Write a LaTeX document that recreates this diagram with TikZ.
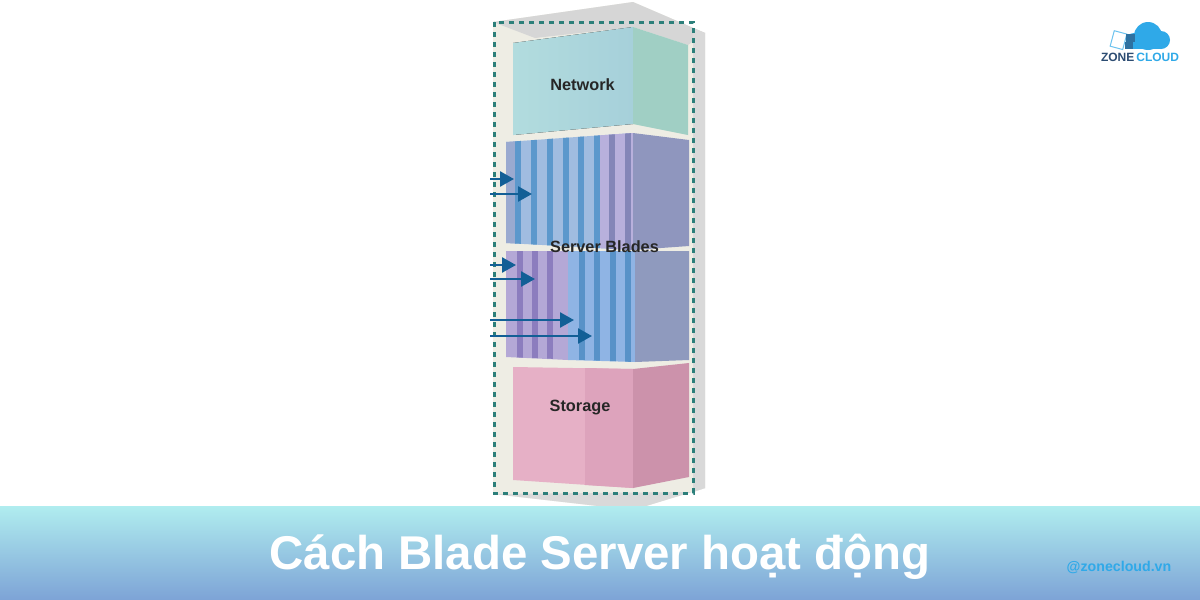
\documentclass[tikz,border=0pt]{standalone}
\usepackage{fontspec}
\setmainfont{Liberation Sans}
\usetikzlibrary{arrows.meta}
\definecolor{flowblue}{HTML}{125F96}
\definecolor{dashgreen}{HTML}{2C7F7A}
\definecolor{cloudblue}{HTML}{2FA9E8}
\definecolor{logonavy}{HTML}{2C4C72}
\begin{document}
\begin{tikzpicture}[x=1pt,y=-1pt,
      flowarrow/.style = {draw=flowblue, line width=2.5pt,
        -{Triangle[length=14pt,width=15pt]}},
      bladelabel/.style = {font=\bfseries\fontsize{16.3}{18}\selectfont, text=black!85, inner sep=0pt},
      stripe/.style = {line width=6pt}]
  \useasboundingbox (0,0) rectangle (1200,600);
  \fill[white] (0,0) rectangle (1200,600);
  % rack
  \fill[black!8!white!96!yellow] (493,22) -- (633,2) -- (705,33) -- (705,488) -- (633,510) -- (493,494) -- cycle;
  \fill[black!16] (493,22) -- (633,2) -- (705,33) -- (688,45) -- (633,27) -- (535,38) -- cycle;
  \fill[black!15] (693,28) -- (705,33) -- (705,488) -- (693,492) -- cycle;
  \fill[black!15] (493,494) -- (693,492) -- (705,488) -- (633,510) -- cycle;
  % network box
  \fill[left color={rgb,255:red,178;green,220;blue,222}, right color={rgb,255:red,166;green,208;blue,218}] (513,43) -- (633,27) -- (633,124) -- (513,135) -- cycle;
  \fill[fill={rgb,255:red,160;green,207;blue,196}] (633,27) -- (688,45) -- (688,135) -- (633,124) -- cycle;
  % upper blades
  \fill[fill={rgb,255:red,160;green,188;blue,224}] (506,142) -- (633,133) -- (633,250) -- (506,243) -- cycle;
  \fill[fill={rgb,255:red,143;green,150;blue,190}] (633,133) -- (689,140) -- (689,246) -- (633,250) -- cycle;
  \begin{scope}
    \clip (506,142) -- (633,133) -- (633,250) -- (506,243) -- cycle;
    \fill[fill={rgb,255:red,154;green,170;blue,208}] (506,130) rectangle (516,250);
    \fill[fill={rgb,255:red,184;green,176;blue,220}] (598,130) rectangle (633,250);
    \foreach \xx in {518,534,550,566,581,597}
      \draw[stripe, draw={rgb,255:red,92;green,152;blue,204}] (\xx,130) -- (\xx,250);
    \foreach \xx in {612,628}
      \draw[stripe, draw={rgb,255:red,132;green,134;blue,184}] (\xx,130) -- (\xx,250);
  \end{scope}
  % lower blades
  \fill[fill={rgb,255:red,180;green,168;blue,214}] (506,251) -- (568,251) -- (568,360) -- (506,357) -- cycle;
  \fill[fill={rgb,255:red,143;green,180;blue,228}] (568,251) -- (635,251) -- (635,362) -- (568,360) -- cycle;
  \fill[fill={rgb,255:red,143;green,154;blue,190}] (635,251) -- (689,251) -- (689,360) -- (635,362) -- cycle;
  \begin{scope}
    \clip (506,251) -- (635,251) -- (635,362) -- (506,357) -- cycle;
    \foreach \xx in {520,535,550}
      \draw[stripe, draw={rgb,255:red,140;green,125;blue,190}] (\xx,251) -- (\xx,365);
    \foreach \xx in {582,597,613,628}
      \draw[stripe, draw={rgb,255:red,88;green,146;blue,200}] (\xx,251) -- (\xx,365);
  \end{scope}
  % storage box
  \fill[fill={rgb,255:red,230;green,176;blue,198}] (513,367) -- (633,369) -- (633,488) -- (513,480) -- cycle;
  \fill[fill={rgb,255:red,221;green,163;blue,188}] (585,368) -- (633,369) -- (633,488) -- (585,485) -- cycle;
  \fill[fill={rgb,255:red,204;green,146;blue,171}] (633,369) -- (689,363) -- (689,477) -- (633,488) -- cycle;
  % dashed frame
  \draw[dashgreen, line width=3pt, dash pattern=on 5pt off 5pt] (494,22) rectangle (693,493);
  % labels
  \node[bladelabel] (network) at (582.5,85) {Network};
  \node[bladelabel] (blades) at (604.5,247) {Server Blades};
  \node[bladelabel] (storage) at (580,408) {Storage};
  % arrows
  \foreach \name/\yy/\xx in {a/179/514,b/194/532,c/265/516,d/279/535,e/320/574,f/336/592} {
    \coordinate (in\name) at (490,\yy);
    \coordinate (tip\name) at (\xx,\yy);
    \draw[flowarrow] (in\name) -- (tip\name);
  }
  % banner
  \fill[top color={rgb,255:red,176;green,237;blue,239}, bottom color={rgb,255:red,125;green,163;blue,214}] (0,506) rectangle (1200,600);
  \node[text=white, font=\bfseries\fontsize{47.4}{52}\selectfont, inner sep=0pt] (title) at (600,557) {Cách Blade Server hoạt động};
  \node[text=cloudblue, font=\bfseries\fontsize{14.2}{16}\selectfont, inner sep=0pt] (handle) at (1119,567) {@zonecloud.vn};
  % logo
  \fill[cloudblue] (1148,36) circle (14);
  \fill[cloudblue] (1161,40) circle (9);
  \fill[cloudblue] (1134,41) circle (8);
  \fill[cloudblue] (1134,36) -- (1161,36) -- (1161,49) -- (1134,49) -- cycle;
  \draw[cloudblue!70, line width=1pt, rotate around={-15:(1118,40)}] (1112,32) rectangle (1125,48);
  \fill[logonavy!60!cloudblue] (1126,34) -- (1135,34) -- (1135,42) -- (1126,42) -- cycle;
  \fill[logonavy!60!cloudblue] (1125,42) -- (1133,42) -- (1133,49) -- (1125,49) -- cycle;
  \node[font=\bfseries\fontsize{12}{14}\selectfont, inner sep=0pt] (logotext) at (1140,57) {\textcolor{logonavy}{ZONE}\,\textcolor{cloudblue}{CLOUD}};
\end{tikzpicture}
\end{document}
